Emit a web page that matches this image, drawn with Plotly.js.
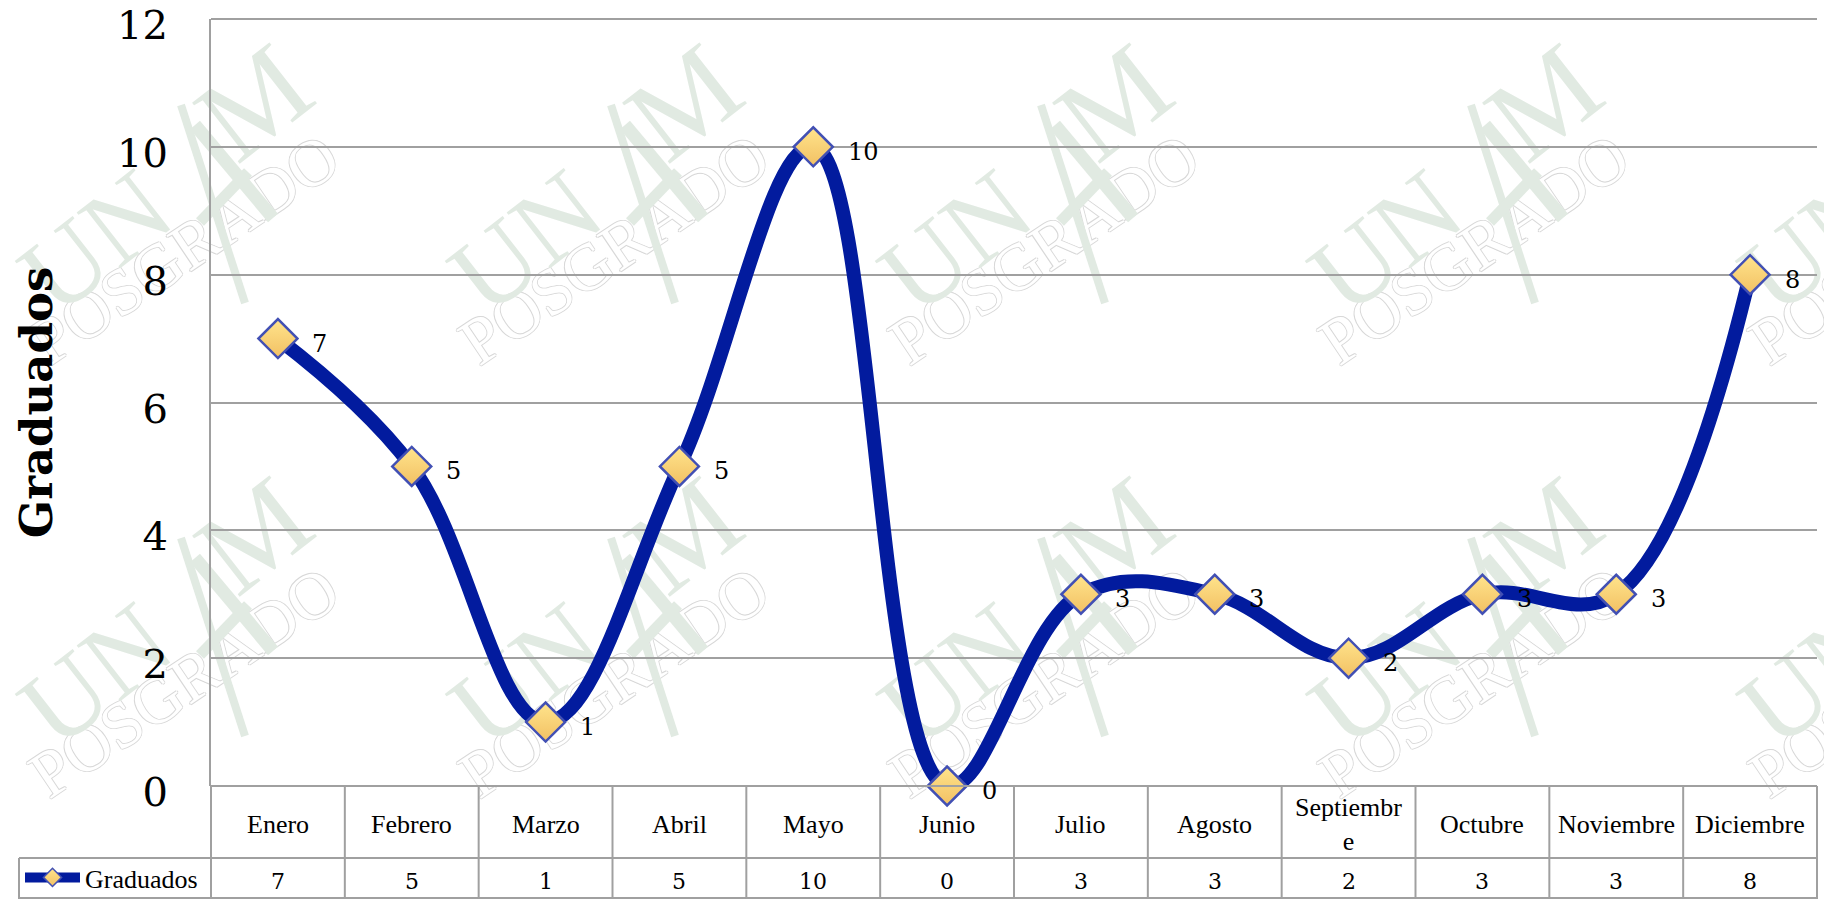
<!DOCTYPE html>
<html><head><meta charset="utf-8">
<script src="https://cdn.plot.ly/plotly-3.0.1.min.js"></script>
<style>html,body{margin:0;padding:0;background:#fff}#c{width:1824px;height:899px}</style></head>
<body><div id="c"></div>
<script>
const categories=['Enero','Febrero','Marzo','Abril','Mayo','Junio','Julio','Agosto','Septiembr<br>e','Octubre','Noviembre','Diciembre'];
const graduados=[7,5,1,5,10,0,3,3,2,3,3,8];
const seriesName='Graduados';
const yTicks=[0,2,4,6,8,10,12];

const W=1824,H=899,L=211,R=1817,T=19,B=786,ROW1=858,ROW2=899,TL=19;
const px=x=>(x-L)/(R-L), py=y=>(B-y)/(B-T);
const serif='"Liberation Serif",serif', numFont='"DejaVu Serif",serif', grid='#a0a0a0';
const blue='#021B9E';
const marker={symbol:'diamond',size:30,color:'#FFE48C',gradient:{type:'vertical',color:'#F2C063'},line:{color:'#4250B4',width:2.5}};
const xi=categories.map((_,i)=>i);

const traces=[
 {x:xi,y:graduados,name:seriesName,type:'scatter',mode:'lines+markers',cliponaxis:true,showlegend:true,
  line:{color:blue,width:14,shape:'spline',smoothing:1.1},marker:Object.assign({},marker,{size:14,line:{color:'#4250B4',width:1.5}})},
 {x:xi,y:graduados,type:'scatter',mode:'markers',cliponaxis:false,showlegend:false,marker:marker,hoverinfo:'skip'}
];

const shapes=[], annotations=[];
const hl=(x0,x1,y)=>shapes.push({type:'line',xref:'paper',yref:'paper',x0:px(x0),x1:px(x1),y0:py(y),y1:py(y),line:{color:grid,width:2},layer:'above'});
const vl=(x,y0,y1)=>shapes.push({type:'line',xref:'paper',yref:'paper',x0:px(x),x1:px(x),y0:py(y0),y1:py(y1),line:{color:grid,width:2},layer:'above'});
hl(L,R,T);hl(L,R,B);hl(TL,R,ROW1);hl(TL,R,ROW2-1);
vl(TL,ROW1,ROW2);vl(L,B,ROW2);
categories.forEach((c,i)=>{
  const right=L+(R-L)*(i+1)/12, mid=L+(R-L)*(i+.5)/12;
  vl(right,B,ROW2);
  annotations.push({xref:'paper',yref:'paper',x:px(mid),y:py((B+ROW1)/2+2),text:c,showarrow:false,xanchor:'center',yanchor:'middle',font:{family:serif,size:26,color:'#000'}});
  annotations.push({xref:'paper',yref:'paper',x:px(mid),y:py((ROW1+ROW2)/2+3),text:String(graduados[i]),showarrow:false,xanchor:'center',yanchor:'middle',font:{family:numFont,size:22,color:'#000'}});
  annotations.push({x:i,y:graduados[i],xref:'x',yref:'y',text:String(graduados[i]),showarrow:false,xshift:graduados[i]>=10?50:42,yshift:-5,xanchor:'center',yanchor:'middle',font:{family:numFont,size:24,color:'#000'}});
});

// watermark tiles, beneath the chart
const WM_GREEN='#E1EAE2', WM_GREY='#D8D8D8';
for(let r=0;r<2;r++)for(let c=0;c<5;c++){
  const ox=c*430, oy=r*433;
  const wm=(cx,cy,text,font,ang)=>shapes.push({type:'rect',xref:'paper',yref:'paper',layer:'below',
    x0:px(ox+cx-5),x1:px(ox+cx+5),y0:py(oy+cy+5),y1:py(oy+cy-5),line:{width:0},fillcolor:'rgba(0,0,0,0)',
    label:{text:text,font:font,textangle:ang,textposition:'middle center'}});
  const stroke=(x0,y0,x1,y1,w)=>shapes.push({type:'line',xref:'paper',yref:'paper',layer:'below',
    x0:px(ox+x0),x1:px(ox+x1),y0:py(oy+y0),y1:py(oy+y1),line:{color:WM_GREEN,width:w}});
  wm(180,243,'POSGRADO',{family:serif,size:66,color:'#ffffff',shadow:'1px 0 0 '+WM_GREY+', -1px 0 0 '+WM_GREY+', 0 1px 0 '+WM_GREY+', 0 -1px 0 '+WM_GREY},-34);
  wm(88,232,'UN',{family:serif,size:108,color:WM_GREEN},-38);
  wm(246,92,'M',{family:serif,size:118,color:WM_GREEN},-38);
  stroke(181,105,245,303,8);stroke(195,125,273,218,13);stroke(200,222,248,172,11);
}

Plotly.newPlot('c',traces,{
  width:W,height:H,margin:{l:L,r:W-R,t:T,b:H-B,pad:0,autoexpand:false},
  paper_bgcolor:'rgba(0,0,0,0)',plot_bgcolor:'rgba(0,0,0,0)',
  xaxis:{type:'linear',range:[-.5,11.5],showgrid:false,zeroline:false,showticklabels:false,ticks:'',fixedrange:true},
  yaxis:{range:[0,12],tickvals:yTicks,ticktext:yTicks.map(String),showgrid:true,gridcolor:grid,gridwidth:2,zeroline:false,
    showline:true,linecolor:grid,linewidth:2,ticks:'',ticklabelstandoff:33,ticklabelshift:6,
    tickfont:{family:numFont,size:40,color:'#000'},
    title:{text:'<b>Graduados</b>',font:{family:numFont,size:45,color:'#000'},standoff:50},fixedrange:true},
  showlegend:true,
  legend:{x:px(TL+1),y:py(ROW1-4),xanchor:'left',yanchor:'top',itemwidth:55,bgcolor:'rgba(0,0,0,0)',borderwidth:0,font:{family:serif,size:26,color:'#000'},tracegroupgap:0},
  shapes,annotations,hovermode:false
},{displayModeBar:false,staticPlot:true});
</script></body></html>
